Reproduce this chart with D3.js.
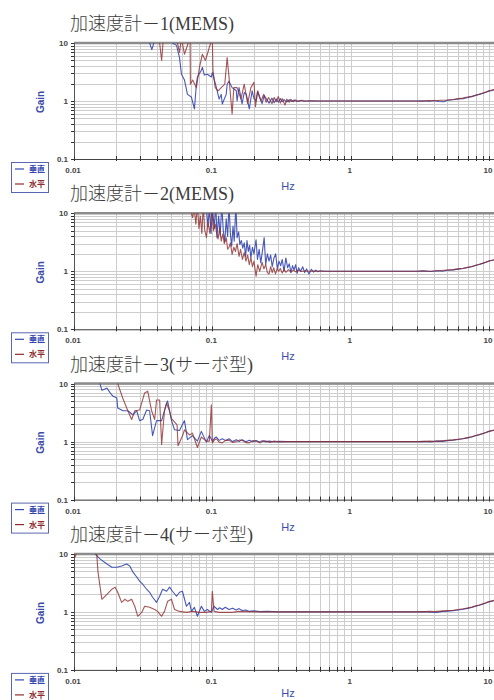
<!DOCTYPE html>
<html>
<head>
<meta charset="utf-8">
<script src="https://cdn.jsdelivr.net/npm/d3@7"></script>
<style>
  body { margin: 0; background: #fff; }
  svg { display: block; }
</style>
</head>
<body>
<svg id="chart" width="494" height="700"></svg>
<script>
// Panel titles and legend names
const titles = ["加速度計－1(MEMS)", "加速度計－2(MEMS)", "加速度計－3(サーボ型)", "加速度計－4(サーボ型)"];
const seriesNames = ["垂直", "水平"];
const xTickValues = [0.01, 0.1, 1, 10];
const xTickLabels = ["0.01", "0.1", "1", "10"];
const yTickValues = [0.1, 1, 10];
const yTickLabels = ["0.1", "1", "10"];

// Gain vs frequency [Hz, gain] — accelerometer 1 (MEMS)
const vert1 = [[0.033,14],[0.0355,9.5],[0.0365,7.7],[0.0375,9.5],[0.039,14],
  [0.05,14],[0.0515,10],[0.0551,9.1],[0.0579,5.6],[0.0598,2.9],[0.0629,2.3],[0.0661,1.3],[0.0706,1.17],[0.0742,0.73],
  [0.0767,1.95],[0.078,2.6],[0.0833,3.4],[0.0847,3.8],[0.0876,2.8],[0.092,2.9],[0.0984,2.6],[0.1,3.1],[0.107,1.7],
  [0.112,1.08],[0.116,1.3],[0.118,0.89],[0.126,1.3],[0.128,1.95],[0.132,2.2],[0.139,1.7],[0.149,1.5],[0.151,1.0],
  [0.156,1.7],[0.164,0.89],[0.17,1.4],[0.176,1.3],[0.185,0.73],[0.194,1.5],[0.2,1.1],[0.207,1.0],[0.212,1.45],[0.218,1.2],
  [0.229,0.9],[0.237,1.25],[0.245,1.1],[0.257,0.92],[0.27,1.12],[0.28,0.93],[0.29,1.08],[0.3,0.95],[0.31,1.1],
  [0.32,0.97],[0.33,1.06],[0.345,0.96],[0.36,1.05],[0.375,0.98],[0.39,1.04],[0.41,0.98],[0.43,1.02],[0.46,0.99],
  [0.5,1.01],[0.6,1.0],[1,1.0],[2,1.0],[3,1.0],[3.3,1.01],[3.7,0.99],[4,1.02],[4.3,0.98],[4.7,0.97],[5,1.03],
  [5.5,1.05],[6,1.08],[6.5,1.1],[7,1.15],[7.5,1.19],[8,1.25],[8.5,1.3],[9,1.35],[9.5,1.42],[10,1.48],[10.5,1.52],[11,1.57],[12,1.62]];
const horiz1 = [[0.04,14],[0.0416,10],[0.043,5.0],[0.044,10],[0.045,14],
  [0.054,14],[0.0565,9],[0.0579,6.9],[0.0598,12],[0.0629,6.4],[0.066,9],[0.069,14],[0.0694,1.95],[0.0721,2.3],
  [0.0767,1.7],[0.0807,3.8],[0.0847,6.4],[0.0891,5.0],[0.092,6.4],[0.0951,8.4],[0.1,12],[0.101,3.4],[0.105,1.7],
  [0.11,1.5],[0.116,1.7],[0.123,1.95],[0.128,5.6],[0.132,2.6],[0.136,1.08],[0.139,0.6],[0.143,1.7],[0.151,1.7],
  [0.161,1.08],[0.17,1.95],[0.18,0.9],[0.19,1.7],[0.2,2.1],[0.205,0.8],[0.213,1.5],[0.225,1.0],[0.235,1.3],
  [0.245,0.95],[0.255,1.15],[0.27,0.9],[0.28,1.15],[0.29,0.97],[0.3,1.2],[0.31,0.92],[0.32,1.1],[0.335,0.85],
  [0.345,1.08],[0.36,0.95],[0.37,1.07],[0.385,0.97],[0.4,1.04],[0.42,0.98],[0.44,1.03],[0.47,1.0],[0.6,1.0],
  [1,1.0],[2,1.0],[3,1.0],[3.3,0.99],[3.6,1.02],[4,1.01],[4.5,1.03],[5,1.04],[5.5,1.06],[6,1.1],[6.5,1.12],
  [7,1.17],[7.5,1.2],[8,1.26],[8.5,1.31],[9,1.37],[9.5,1.43],[10,1.5],[11,1.58],[12,1.64]];

// Accelerometer 2 (MEMS)
const vert2 = [[0.09,14],[0.093,6],[0.095,12],[0.098,4.5],[0.1,14],[0.103,5.5],[0.106,14],[0.108,3.8],[0.111,9],
  [0.114,4.2],[0.117,14],[0.12,5],[0.123,3.2],[0.126,8],[0.129,4],[0.132,14],[0.135,4.5],[0.138,2.7],[0.141,6],
  [0.144,3.3],[0.148,14],[0.151,3.8],[0.155,4.8],[0.158,2.9],[0.162,3.4],[0.166,2.5],[0.17,3.1],[0.174,1.8],
  [0.178,3.4],[0.182,2.2],[0.186,2.8],[0.19,1.7],[0.195,2.6],[0.2,2.0],[0.207,3.5],[0.212,1.6],[0.218,2.4],
  [0.224,1.4],[0.23,2.2],[0.237,3.8],[0.243,1.3],[0.25,2.0],[0.257,1.5],[0.264,1.9],[0.271,1.2],[0.279,1.7],
  [0.287,2.0],[0.295,1.1],[0.303,1.5],[0.312,1.25],[0.32,1.6],[0.33,1.0],[0.34,1.7],[0.35,1.15],[0.36,1.35],
  [0.37,0.95],[0.38,1.25],[0.39,1.05],[0.4,1.3],[0.41,0.92],[0.42,1.15],[0.435,1.0],[0.45,1.2],[0.465,0.95],
  [0.48,1.1],[0.5,0.9],[0.52,1.08],[0.54,0.97],[0.56,1.05],[0.58,0.98],[0.6,1.02],[0.65,1.0],[1,1.0],[2,1.0],
  [3,1.0],[3.4,1.01],[3.8,0.99],[4.2,1.02],[4.6,1.0],[5,1.04],[5.5,1.06],[6,1.09],[6.5,1.12],[7,1.16],[7.5,1.2],
  [8,1.26],[8.5,1.31],[9,1.37],[9.5,1.43],[10,1.5],[11,1.58],[12,1.64]];
const horiz2 = [[0.068,14],[0.0706,10],[0.072,8.4],[0.074,12],[0.076,6.5],[0.078,14],[0.08,5.5],[0.082,9],
  [0.084,4.5],[0.086,14],[0.088,5.2],[0.0907,3.8],[0.093,7],[0.096,4.5],[0.099,12],[0.102,5.0],[0.105,6.5],
  [0.107,4.8],[0.11,3.6],[0.113,5.5],[0.116,3.3],[0.119,4.4],[0.122,3.0],[0.126,3.8],[0.129,2.4],[0.132,2.6],
  [0.135,3.1],[0.139,1.95],[0.143,2.6],[0.147,2.2],[0.151,3.0],[0.156,1.8],[0.16,2.4],[0.165,1.6],[0.17,2.1],
  [0.175,1.5],[0.18,1.9],[0.185,1.3],[0.19,1.7],[0.195,1.2],[0.2,1.5],[0.207,0.82],[0.213,1.3],[0.22,1.0],
  [0.229,1.43],[0.236,1.1],[0.243,1.3],[0.25,0.95],[0.257,0.9],[0.264,1.2],[0.271,0.95],[0.278,1.15],[0.286,0.9],
  [0.294,1.1],[0.302,1.0],[0.31,1.12],[0.32,0.93],[0.33,1.08],[0.34,0.96],[0.355,1.07],[0.37,0.97],[0.385,1.05],
  [0.4,0.98],[0.42,1.04],[0.44,0.99],[0.47,1.02],[0.5,1.0],[0.55,1.01],[0.6,1.0],[1,1.0],[2,1.0],[3,1.0],
  [3.3,1.02],[3.7,1.0],[4,1.01],[4.5,1.03],[5,1.05],[5.5,1.07],[6,1.1],[6.5,1.13],[7,1.17],[7.5,1.21],[8,1.27],
  [8.5,1.32],[9,1.38],[9.5,1.44],[10,1.51],[11,1.59],[12,1.65]];

// Accelerometer 3 (servo type)
const vert3 = [[0.0148,14],[0.0154,10],[0.0159,7.7],[0.0166,8.0],[0.0173,8.4],[0.0182,7.0],[0.0191,6.1],
  [0.0204,5.65],[0.0207,3.8],[0.0216,3.6],[0.0225,3.4],[0.0245,3.4],[0.0266,2.9],[0.0284,3.4],[0.0298,2.3],
  [0.0314,2.4],[0.0335,3.5],[0.0352,3.4],[0.037,1.27],[0.0395,2.3],[0.043,2.3],[0.0467,4.6],[0.0475,5.0],
  [0.0507,2.3],[0.0533,1.6],[0.0579,1.55],[0.0629,2.3],[0.0661,1.08],[0.0718,1.27],[0.078,1.02],[0.0833,1.5],
  [0.0905,0.98],[0.0951,1.27],[0.1,1.02],[0.104,1.15],[0.107,1.2],[0.112,1.05],[0.118,1.12],[0.125,1.04],
  [0.132,1.12],[0.14,1.0],[0.149,1.08],[0.156,1.0],[0.164,1.08],[0.175,0.99],[0.185,1.05],[0.196,0.99],
  [0.207,1.04],[0.22,0.98],[0.229,1.03],[0.245,0.99],[0.257,1.02],[0.28,0.99],[0.3,1.01],[0.35,1.0],[1,1.0],
  [2,1.0],[3,1.0],[3.4,1.01],[3.8,0.99],[4.2,1.02],[4.6,1.01],[5,1.04],[5.5,1.06],[6,1.09],[6.5,1.12],[7,1.16],
  [7.5,1.2],[8,1.26],[8.5,1.31],[9,1.37],[9.5,1.43],[10,1.5],[11,1.58],[12,1.64]];
const horiz3 = [[0.0203,14],[0.0207,10],[0.0225,5.65],[0.0245,3.4],[0.0261,2.4],[0.0275,3.4],[0.0298,3.5],
  [0.0324,6.9],[0.0341,7.4],[0.0364,3.4],[0.0383,2.4],[0.0395,5.2],[0.0416,5.2],[0.043,0.89],[0.0451,3.4],
  [0.0467,4.6],[0.049,3.4],[0.0507,2.5],[0.0556,1.95],[0.0565,0.85],[0.061,1.27],[0.0629,1.6],[0.0684,1.3],
  [0.0718,1.4],[0.078,0.79],[0.0833,1.2],[0.0905,1.02],[0.0951,1.02],[0.0984,4.3],[0.1,0.95],[0.104,1.08],
  [0.107,1.12],[0.112,0.98],[0.118,0.95],[0.125,1.06],[0.132,1.05],[0.14,0.97],[0.149,1.0],[0.156,1.06],
  [0.164,1.05],[0.175,0.96],[0.185,0.95],[0.196,1.04],[0.207,1.02],[0.222,0.95],[0.235,1.03],[0.245,1.02],
  [0.26,0.97],[0.28,1.02],[0.3,0.99],[0.35,1.0],[1,1.0],[2,1.0],[3,1.0],[3.3,1.0],[3.7,1.02],[4,1.01],
  [4.5,1.03],[5,1.05],[5.5,1.07],[6,1.1],[6.5,1.13],[7,1.17],[7.5,1.21],[8,1.27],[8.5,1.32],[9,1.38],
  [9.5,1.44],[10,1.51],[11,1.59],[12,1.65]];

// Accelerometer 4 (servo type)
const vert4 = [[0.0138,14],[0.0142,10],[0.0154,8.2],[0.0173,6.7],[0.0188,5.9],[0.0204,5.9],[0.0221,6.2],
  [0.024,6.7],[0.0253,6.2],[0.0266,4.9],[0.0284,4.0],[0.0298,3.4],[0.0314,3.0],[0.0335,2.46],[0.0352,2.18],
  [0.037,1.79],[0.0395,1.46],[0.0416,1.86],[0.0437,2.46],[0.0467,2.27],[0.0491,2.67],[0.0515,2.27],
  [0.0551,1.86],[0.0579,2.18],[0.0608,2.27],[0.065,1.25],[0.0684,1.46],[0.0706,1.02],[0.0742,1.2],[0.078,0.84],
  [0.0833,1.25],[0.0876,1.02],[0.092,1.1],[0.0984,0.98],[0.103,1.25],[0.109,1.1],[0.113,1.18],[0.118,1.1],
  [0.124,1.2],[0.132,1.1],[0.14,1.16],[0.149,1.08],[0.156,1.14],[0.164,1.06],[0.175,1.08],[0.185,1.02],
  [0.2,1.04],[0.22,1.01],[0.25,1.02],[0.3,1.0],[1,1.0],[2,1.0],[3,1.0],[3.4,1.01],[3.8,0.99],[4.2,0.98],
  [4.6,1.02],[5,1.03],[5.5,1.05],[6,1.08],[6.5,1.11],[7,1.15],[7.5,1.19],[8,1.25],[8.5,1.3],[9,1.36],
  [9.5,1.42],[10,1.49],[11,1.57],[12,1.63]];
const horiz4 = [[0.01,9.5],[0.0102,8.9],[0.0107,12],
  [0.0144,14],[0.0146,10],[0.0149,4.9],[0.0159,1.65],[0.0173,2.0],[0.0188,2.46],[0.0198,2.67],[0.0207,2.18],
  [0.0221,1.46],[0.0233,1.65],[0.0245,1.52],[0.0261,1.65],[0.0275,1.25],[0.0289,0.84],[0.0309,0.98],
  [0.0324,1.25],[0.0352,1.2],[0.0383,1.1],[0.0402,1.02],[0.043,0.84],[0.0451,1.02],[0.0475,1.52],[0.0507,1.65],
  [0.0533,1.1],[0.0579,1.02],[0.065,0.98],[0.0718,1.02],[0.0807,0.98],[0.0905,0.98],[0.0984,1.02],[0.1,2.27],
  [0.103,1.02],[0.112,0.98],[0.126,0.98],[0.139,0.98],[0.156,1.02],[0.2,1.0],[0.3,1.0],[1,1.0],[2,1.0],[3,1.0],
  [3.3,1.0],[3.7,1.02],[4,1.01],[4.5,1.03],[5,1.05],[5.5,1.07],[6,1.1],[6.5,1.13],[7,1.17],[7.5,1.21],[8,1.27],
  [8.5,1.32],[9,1.38],[9.5,1.44],[10,1.51],[11,1.59],[12,1.65]];

const vertSeries = [vert1, vert2, vert3, vert4];
const horizSeries = [horiz1, horiz2, horiz3, horiz4];

const BLUE = "#3346b0";
const RED = "#8e2c2c";
const LABEL_BLUE = "#3a4ba8";

const svg = d3.select("#chart");
const plotLeft = 74, tenX = 489, plotRight = 500;
const panelStep = 170.3, firstTop = 43, plotH = 116;

// minor log-grid values per decade
const minorVals = [];
for (let e = -2; e <= 1; e++) for (let m = 1; m <= 9; m++) minorVals.push(+(m * Math.pow(10, e)).toPrecision(3));

titles.forEach((title, k) => {
  const top = firstTop + panelStep * k;
  const bottom = top + plotH;
  const x = d3.scaleLog().domain([0.01, 10]).range([plotLeft, tenX]);
  const y = d3.scaleLog().domain([0.1, 10]).range([bottom, top]);
  const g = svg.append("g");

  // title
  g.append("text").attr("x", 70).attr("y", top - 13)
    .attr("font-family", "'Liberation Serif', 'Noto Sans CJK JP', serif")
    .attr("font-size", 18).attr("font-weight", 300).attr("fill", "#3c3c3c").text(title);

  // grid
  const xGrid = minorVals.filter(v => v >= 0.01 && x(v) <= 494);
  const yGrid = minorVals.filter(v => v >= 0.1 && v <= 10);
  g.selectAll(".vg").data(xGrid).join("line")
    .attr("x1", d => Math.round(x(d)) + 0.5).attr("x2", d => Math.round(x(d)) + 0.5)
    .attr("y1", top).attr("y2", bottom)
    .attr("stroke", "#cdcdcd").attr("stroke-width", 1);
  g.selectAll(".hg").data(yGrid).join("line")
    .attr("x1", plotLeft).attr("x2", plotRight)
    .attr("y1", d => Math.round(y(d)) + 0.5).attr("y2", d => Math.round(y(d)) + 0.5)
    .attr("stroke", "#cdcdcd").attr("stroke-width", 1);

  // axes frame
  g.append("line").attr("x1", plotLeft).attr("x2", plotRight).attr("y1", top).attr("y2", top)
    .attr("stroke", "#8c8c8c").attr("stroke-width", 2.5);
  g.append("line").attr("x1", plotLeft + 0.5).attr("x2", plotLeft + 0.5).attr("y1", top).attr("y2", bottom)
    .attr("stroke", "#555").attr("stroke-width", 1);
  g.append("line").attr("x1", plotLeft).attr("x2", plotRight).attr("y1", bottom + 0.5).attr("y2", bottom + 0.5)
    .attr("stroke", "#444").attr("stroke-width", 1);

  // axis tick marks
  g.selectAll(".xt").data(xGrid).join("line")
    .attr("x1", d => Math.round(x(d)) + 0.5).attr("x2", d => Math.round(x(d)) + 0.5)
    .attr("y1", bottom - 3).attr("y2", bottom + 2).attr("stroke", "#333");
  g.selectAll(".yt").data(yGrid).join("line")
    .attr("x1", plotLeft - 3).attr("x2", plotLeft)
    .attr("y1", d => Math.round(y(d)) + 0.5).attr("y2", d => Math.round(y(d)) + 0.5).attr("stroke", "#333");

  // tick labels
  g.selectAll(".xl").data(xTickValues).join("text")
    .attr("x", d => x(d) - 1).attr("y", bottom + 14).attr("text-anchor", "middle")
    .attr("font-family", "'Liberation Sans', Arial, sans-serif").attr("font-size", 8).attr("font-weight", "bold")
    .attr("fill", "#444").text((d, i) => xTickLabels[i]);
  g.selectAll(".yl").data(yTickValues).join("text")
    .attr("x", 68).attr("y", d => y(d) + 3).attr("text-anchor", "end")
    .attr("font-family", "'Liberation Sans', Arial, sans-serif").attr("font-size", 8).attr("font-weight", "bold")
    .attr("fill", "#444").text((d, i) => yTickLabels[i]);

  // axis titles
  g.append("text").attr("transform", `translate(44,${top + 59}) rotate(-90)`).attr("text-anchor", "middle")
    .attr("font-family", "'Liberation Sans', Arial, sans-serif").attr("font-size", 10).attr("font-weight", "bold")
    .attr("fill", LABEL_BLUE).text("Gain");
  g.append("text").attr("x", 288).attr("y", Math.min(bottom + 31, 697)).attr("text-anchor", "middle")
    .attr("font-family", "'Liberation Sans', Arial, sans-serif").attr("font-size", 11)
    .attr("fill", LABEL_BLUE).text("Hz");

  // data lines, clipped to the plot area
  const clipId = "clip" + k;
  svg.append("clipPath").attr("id", clipId).append("rect")
    .attr("x", plotLeft).attr("y", top).attr("width", plotRight - plotLeft).attr("height", plotH);
  const line = d3.line().x(d => x(d[0])).y(d => y(d[1]));
  const lg = g.append("g").attr("clip-path", `url(#${clipId})`);
  lg.append("path").datum(vertSeries[k]).attr("d", line)
    .attr("fill", "none").attr("stroke", BLUE).attr("stroke-width", 1.1).attr("stroke-linejoin", "round")
    .attr("stroke-opacity", 0.9);
  lg.append("path").datum(horizSeries[k]).attr("d", line)
    .attr("fill", "none").attr("stroke", RED).attr("stroke-width", 1.1).attr("stroke-linejoin", "round")
    .attr("stroke-opacity", 0.8);

  // legend
  const ly = bottom + 3;
  g.append("rect").attr("x", 11.5).attr("y", ly + 0.5).attr("width", 37).attr("height", 30)
    .attr("fill", "#fff").attr("stroke", "#5a67b0").attr("stroke-width", 1);
  [BLUE, RED].forEach((c, i) => {
    const yy = ly + 7 + i * 15;
    g.append("line").attr("x1", 15).attr("x2", 24).attr("y1", yy).attr("y2", yy)
      .attr("stroke", c).attr("stroke-width", 1.2);
    g.append("text").attr("x", 29).attr("y", yy + 3).attr("font-family", "'Noto Sans CJK JP', sans-serif")
      .attr("font-size", 8).attr("font-weight", "bold").attr("fill", c).text(seriesNames[i]);
  });
});
</script>
</body>
</html>
